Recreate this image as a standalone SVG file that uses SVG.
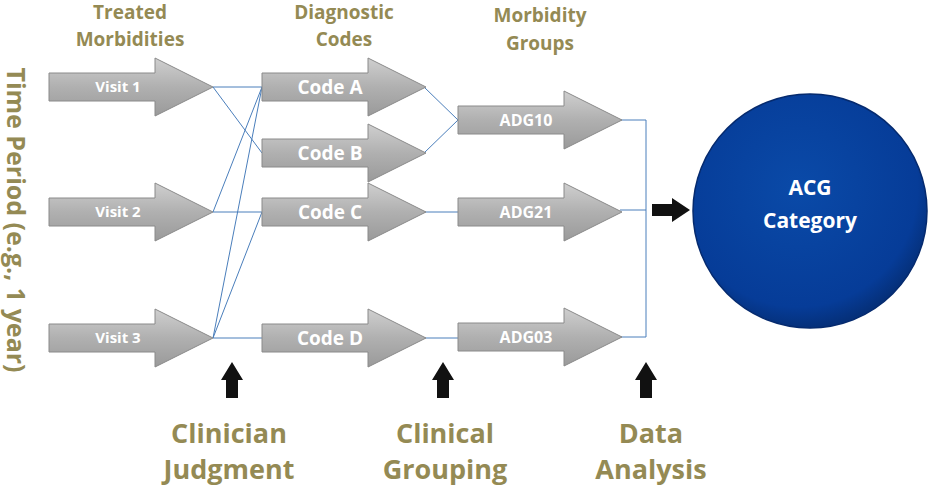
<svg xmlns="http://www.w3.org/2000/svg" width="929" height="490" viewBox="0 0 929 490">
<defs>
<linearGradient id="g" x1="0" y1="0" x2="0" y2="1"><stop offset="0" stop-color="#cfcfcf"/><stop offset="0.5" stop-color="#b0b0b0"/><stop offset="1" stop-color="#9a9a9a"/></linearGradient>
<radialGradient id="c" cx="0.45" cy="0.4" r="0.6"><stop offset="0" stop-color="#0a4aa8"/><stop offset="0.85" stop-color="#063c98"/><stop offset="1" stop-color="#05307a"/></radialGradient>
<path id="arr" d="M0,-14 H106 V-29 L164,0 L106,29 V14 H0 Z"/>
<path id="blk" d="M-6,0 V-18 H-11 L0,-36 L11,-18 H6 V0 Z"/>
</defs>
<style>
.a{fill:url(#g);stroke:#8a8a8a;stroke-width:1}
.t{font-family:"Open Sans","Liberation Sans",sans-serif;font-weight:bold;fill:#fff;text-anchor:middle}
.h{font-family:"Open Sans","Liberation Sans",sans-serif;font-weight:bold;fill:#948a54;text-anchor:middle}
.l{stroke:#4a7ebb;stroke-width:1;fill:none}
</style>
<text class="h" font-size="25" transform="translate(7,220) rotate(90)" y="0">Time Period (e.g., 1 year)</text>
<text class="h" font-size="19" x="130" y="19">Treated</text><text class="h" font-size="19" x="130" y="46">Morbidities</text>
<text class="h" font-size="19" x="344" y="19">Diagnostic</text><text class="h" font-size="19" x="344" y="46">Codes</text>
<text class="h" font-size="19" x="540" y="22">Morbidity</text><text class="h" font-size="19" x="540" y="50">Groups</text>
<g id="connectors" class="l">
<path d="M213,87 H262 M213,87 L262,153 M213,212 L262,87 M213,212 H262 M213,338 L262,87 M213,338 L262,212 M213,338 H262"/>
<path d="M424,87 L458,120 M424,153 L458,120 M424,212 H458 M424,338 H458"/>
<path d="M620,120 H646 V337 H620 M620,210 H646"/>
</g>
<g id="visit1"><use href="#arr" class="a" x="49" y="87"/><text class="t" font-size="15" x="118" y="92">Visit 1</text></g>
<g id="visit2"><use href="#arr" class="a" x="49" y="212"/><text class="t" font-size="15" x="118" y="217">Visit 2</text></g>
<g id="visit3"><use href="#arr" class="a" x="49" y="338"/><text class="t" font-size="15" x="118" y="343">Visit 3</text></g>
<g id="codeA"><use href="#arr" class="a" x="262" y="87"/><text class="t" font-size="19" x="330" y="94">Code A</text></g>
<g id="codeB"><use href="#arr" class="a" x="262" y="153"/><text class="t" font-size="19" x="330" y="160">Code B</text></g>
<g id="codeC"><use href="#arr" class="a" x="262" y="212"/><text class="t" font-size="19" x="330" y="219">Code C</text></g>
<g id="codeD"><use href="#arr" class="a" x="262" y="338"/><text class="t" font-size="19" x="330" y="345">Code D</text></g>
<g id="adg10"><use href="#arr" class="a" x="458" y="120"/><text class="t" font-size="16" x="526" y="126">ADG10</text></g>
<g id="adg21"><use href="#arr" class="a" x="458" y="212"/><text class="t" font-size="16" x="526" y="218">ADG21</text></g>
<g id="adg03"><use href="#arr" class="a" x="458" y="337"/><text class="t" font-size="16" x="526" y="343">ADG03</text></g>
<path d="M652,204 H672 V198 L690,210 L672,222 V216 H652 Z" fill="#111"/>
<g id="acg"><circle cx="810" cy="211" r="117" fill="url(#c)" stroke="#052a6e" stroke-width="1.5"/>
<text class="t" font-size="21" x="810" y="195">ACG</text><text class="t" font-size="21" x="810" y="228">Category</text></g>
<use href="#blk" x="232" y="398" fill="#111"/>
<use href="#blk" x="443" y="398" fill="#111"/>
<use href="#blk" x="646" y="398" fill="#111"/>
<text class="h" font-size="27" x="229" y="443">Clinician</text><text class="h" font-size="27" x="229" y="479">Judgment</text>
<text class="h" font-size="27" x="445" y="443">Clinical</text><text class="h" font-size="27" x="445" y="479">Grouping</text>
<text class="h" font-size="27" x="651" y="443">Data</text><text class="h" font-size="27" x="651" y="479">Analysis</text>
</svg>
